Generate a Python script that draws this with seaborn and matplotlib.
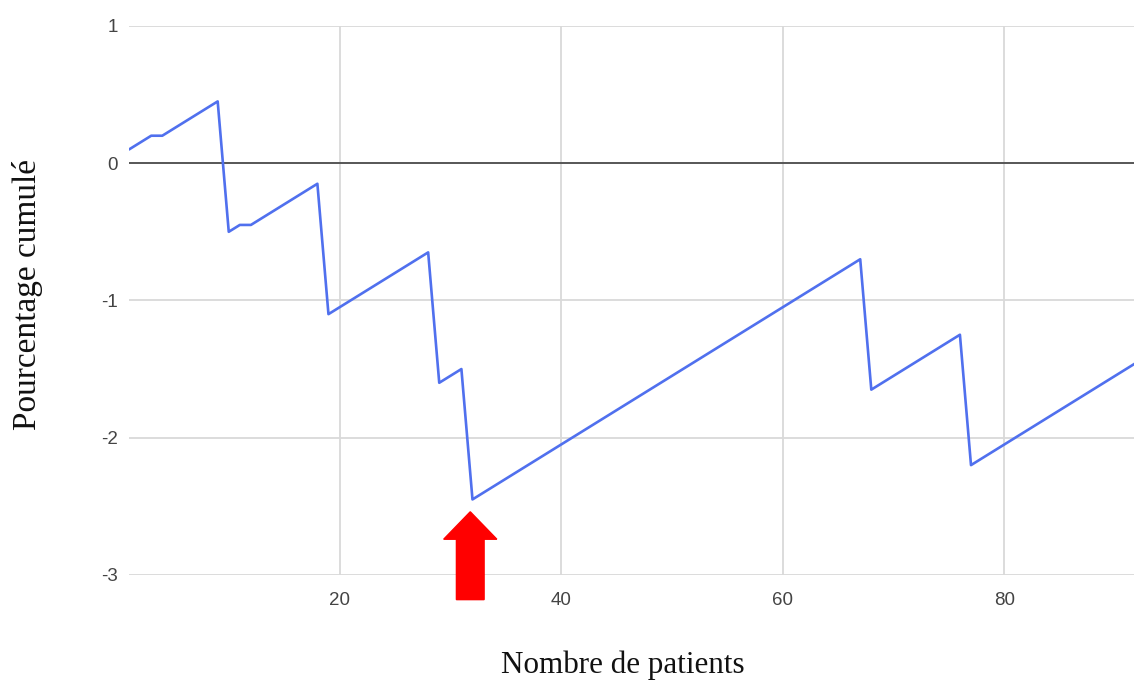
import matplotlib
matplotlib.use("Agg")
import matplotlib.pyplot as plt
from matplotlib.patches import FancyArrow
import seaborn as sns
import pandas as pd

# vertices of the cumulative curve
patients = [1, 3, 4, 9, 10, 11, 12, 18, 19, 28, 29, 31, 32, 67, 68, 76, 77, 92]
cumul = [0.10, 0.20, 0.20, 0.45, -0.50, -0.45, -0.45, -0.15, -1.10, -0.65,
         -1.60, -1.50, -2.45, -0.70, -1.65, -1.25, -2.20, -1.45]
x_ticks = [20, 40, 60, 80]
y_ticks = [-3, -2, -1, 0, 1]
marked_patient = 31.8  # red arrow below the minimum

df = pd.DataFrame({"patients": patients, "cumul": cumul})

sns.set_theme(style="whitegrid")
plt.rcParams["font.family"] = ["Liberation Sans", "DejaVu Sans"]
plt.rcParams["axes.unicode_minus"] = False

fig = plt.figure(figsize=(11.34, 6.82), dpi=100)
ax = fig.add_axes([0.1138, 0.157, 0.889, 0.805])

sns.lineplot(data=df, x="patients", y="cumul", ax=ax, color="#5070ee",
             linewidth=1.9, zorder=3)
ax.axhline(0, color="#333333", linewidth=1.1, zorder=2)

ax.set_xlim(1, 92)
ax.set_ylim(-3, 1)
ax.set_xticks(x_ticks)
ax.set_yticks(y_ticks)
ax.grid(True, color="#d9d9d9", linewidth=1.3)
for s in ax.spines.values():
    s.set_visible(False)
ax.tick_params(axis="both", length=0, labelsize=13.5, labelcolor="#444444")
ax.tick_params(axis="x", pad=12)
ax.tick_params(axis="y", pad=8)

serif = ["Liberation Serif", "DejaVu Serif"]
ax.set_xlabel("Nombre de patients", family=serif, fontsize=22.4, color="#111111")
ax.set_ylabel("Pourcentage cumulé", family=serif, fontsize=24, color="#111111")
ax.xaxis.set_label_coords(0.49, -0.138)
ax.yaxis.set_label_coords(-0.085, 0.51)

arrow = FancyArrow(marked_patient, -3.18, 0, 0.64, width=2.5, head_width=4.8,
                   head_length=0.2, length_includes_head=True, color="#ff0000",
                   clip_on=False, zorder=4)
ax.add_patch(arrow)

fig.savefig("out.png", dpi=100)
